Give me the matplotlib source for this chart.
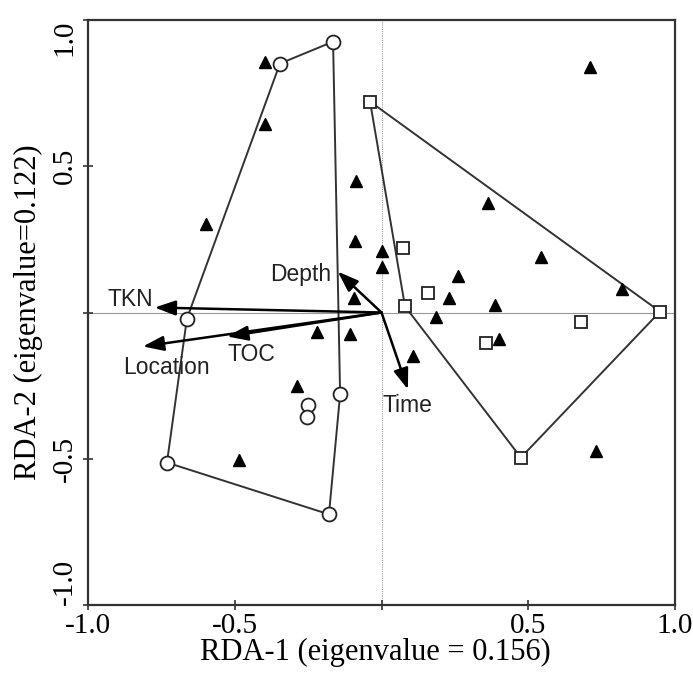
import matplotlib
matplotlib.use("Agg")
import matplotlib.pyplot as plt

# ---- data ----
circ_hull_x = [-0.663, -0.346, -0.165, -0.141, -0.179, -0.731]
circ_hull_y = [-0.021, 0.851, 0.926, -0.280, -0.690, -0.513]
circ_in_x = [-0.250, -0.254]
circ_in_y = [-0.315, -0.356]

sq_hull_x = [-0.039, 0.949, 0.475, 0.080]
sq_hull_y = [0.721, 0.003, -0.496, 0.021]
sq_in_x = [0.073, 0.158, 0.680, 0.356]
sq_in_y = [0.222, 0.068, -0.034, -0.103]

tri_x = [-0.397, -0.397, -0.598, -0.087, -0.090, 0.002, 0.002, -0.094,
         0.710, 0.363, 0.543, 0.261, 0.230, 0.387, 0.819, 0.186, 0.400,
         0.107, 0.731, -0.220, -0.107, -0.288, -0.486]
tri_y = [0.855, 0.646, 0.304, 0.448, 0.243, 0.209, 0.154, 0.048,
         0.841, 0.376, 0.191, 0.126, 0.051, 0.024, 0.082, -0.017, -0.089,
         -0.150, -0.475, -0.065, -0.075, -0.250, -0.503]

env_names = ["TKN", "Location", "TOC", "Depth", "Time"]
env_x = [-0.773, -0.813, -0.526, -0.149, 0.090]
env_y = [0.017, -0.116, -0.082, 0.140, -0.263]
label_x = [-0.932, -0.881, -0.526, -0.380, 0.005]
label_y = [0.044, -0.188, -0.144, 0.130, -0.318]

xticks = [-1.0, -0.5, 0.0, 0.5, 1.0]
xticklabels = ["-1.0", "-0.5", "", "0.5", "1.0"]
yticks = [-1.0, -0.5, 0.0, 0.5, 1.0]
yticklabels = ["-1.0", "-0.5", "", "0.5", "1.0"]

# ---- figure ----
fig = plt.figure(figsize=(6.93, 6.84), dpi=100)
ax = fig.add_axes([88/693, 1-605/684, (675-88)/693, (605-20)/684])
serif = "Liberation Serif"
sans = "Liberation Sans"

ax.set_xlim(-1.0, 1.0)
ax.set_ylim(-1.0, 1.0)

ax.axhline(0, color="#999999", lw=0.8, zorder=1)
ax.axvline(0, color="#999999", lw=0.8, ls=(0, (1, 1)), zorder=1)

lc = "#333333"
ax.fill(circ_hull_x, circ_hull_y, facecolor="none", edgecolor=lc, lw=1.4, zorder=2)
ax.fill(sq_hull_x, sq_hull_y, facecolor="none", edgecolor=lc, lw=1.4, zorder=2)

ax.plot(tri_x, tri_y, ls="none", marker="^", ms=8, mfc="black", mec="black", zorder=4)
ax.plot(circ_hull_x + circ_in_x, circ_hull_y + circ_in_y, ls="none", marker="o",
        ms=10, mfc="white", mec="#222222", mew=1.3, zorder=5)
ax.plot(sq_hull_x + sq_in_x, sq_hull_y + sq_in_y, ls="none", marker="s",
        ms=9, mfc="white", mec="#222222", mew=1.3, zorder=5)

for name, x, y, lx, ly in zip(env_names, env_x, env_y, label_x, label_y):
    ax.annotate("", xy=(x, y), xytext=(0, 0),
                arrowprops=dict(arrowstyle="-|>,head_length=0.7,head_width=0.25",
                                color="black", lw=1.8, mutation_scale=18,
                                shrinkA=0, shrinkB=0), zorder=6)
    ax.text(lx, ly, name, family=sans, fontsize=16.5, ha="left", va="center",
            color="#222222", zorder=7)

ax.set_xticks(xticks)
ax.set_xticklabels(xticklabels, family=serif, fontsize=21)
ax.set_yticks(yticks)
ax.set_yticklabels(yticklabels, family=serif, fontsize=21, rotation=90, va="center")
ax.get_yticklabels()[0].set_va("bottom")
ax.get_yticklabels()[-1].set_va("top")
ax.tick_params(direction="inout", length=7, width=1.2, color="#333333")
ax.tick_params(axis="x", pad=2)
ax.tick_params(axis="y", pad=4)

for s in ax.spines.values():
    s.set_linewidth(1.6)
    s.set_color("#333333")

ax.set_xlabel("RDA-1 (eigenvalue = 0.156)", family=serif, fontsize=22)
ax.set_ylabel("RDA-2 (eigenvalue=0.122)", family=serif, fontsize=22)
ax.yaxis.set_label_coords(-0.076, 0.5)
ax.xaxis.set_label_coords(0.489, -0.056)

fig.savefig("out.png", dpi=100)
